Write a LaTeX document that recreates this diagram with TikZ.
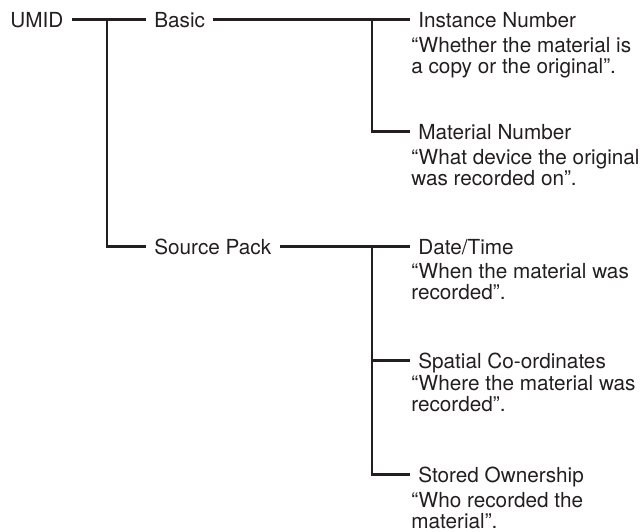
\documentclass[tikz,border=0pt]{standalone}
\usepackage{fontspec}
\setmainfont{TeX Gyre Heros}
\definecolor{UMIDInk}{HTML}{231F20}

\begin{document}
\begin{tikzpicture}[x=0.02cm,y=-0.02cm,line width=1.5pt,draw=UMIDInk,
  field/.style={anchor=base west,inner xsep=4pt,inner ysep=0pt,text height=8.4pt,text depth=0pt,font=\fontsize{11.8}{11.9}\selectfont,text=UMIDInk},
  gloss/.style={anchor=base west,inner sep=0pt,align=left,font=\fontsize{11.8}{11.9}\selectfont,text=UMIDInk}]
\useasboundingbox (0,0) rectangle (642,531);
\node[field] (umid) at (2,27) {UMID};
\node[field] (basic) at (146,27) {Basic};
\node[field] (src) at (146,254) {Source Pack};
\node[field] (inst) at (410,27) {Instance Number};
\node[gloss] (instq) at (410,73) {“Whether the material is\\a copy or the original”.};
\node[field] (mat) at (410,139) {Material Number};
\node[gloss] (matq) at (410,185) {“What device the original\\was recorded on”.};
\node[field] (date) at (410,254) {Date/Time};
\node[gloss] (dateq) at (410,299) {“When the material was\\recorded”.};
\node[field] (spat) at (410,368) {Spatial Co-ordinates};
\node[gloss] (spatq) at (410,411) {“Where the material was\\recorded”.};
\node[field] (stored) at (410,482) {Stored Ownership};
\node[gloss] (storedq) at (410,528) {“Who recorded the\\material”.};
\coordinate (j1) at (107,0 |- umid);
\coordinate (j2) at (372,0 |- basic);
\coordinate (j3) at (j2 |- src);
\draw (umid) -- (basic);
\draw (j1) |- (src.west);
\draw (basic) -- (inst);
\draw (j2) |- (mat.west);
\draw (src) -- (date);
\draw (j3) |- (stored.west);
\draw (j3 |- spat.west) -- (spat.west);
\end{tikzpicture}
\end{document}
